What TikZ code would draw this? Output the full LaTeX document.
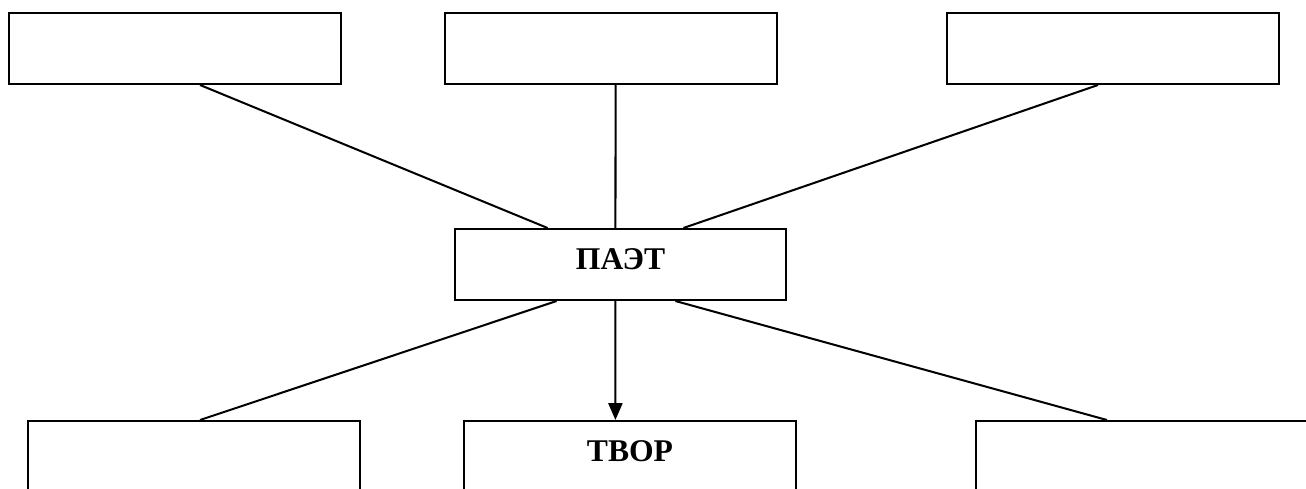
\documentclass[tikz,border=0pt]{standalone}
\usepackage{fontspec}
\setmainfont{Liberation Serif}
\usetikzlibrary{calc,arrows.meta}

\begin{document}
\begin{tikzpicture}[x=0.02cm, y=-0.02cm, line width=1.15pt,
    box/.style = {draw, minimum width=6.64cm, minimum height=1.42cm, inner sep=0pt,
                  font=\fontsize{18}{21}\selectfont\bfseries, text depth=6.2pt}]
            \useasboundingbox (0,0) rectangle (1306,488);

            \node[box] (1) at (175,48.5)    {};
            \node[box] (2) at (611,48.5)    {};
            \node[box] (3) at (1113,48.5)   {};
            \node[box, minimum width=6.62cm] (4) at (620.5,264.5) {ПАЭТ};
            \node[box] (5) at (194,456.5)   {};
            \node[box] (6) at (630,456.5)   {ТВОР};
            \node[box] (7) at (1142,456.5)  {};

            \draw ($(1.south west)!0.575!(1.south east)$) -- ($(4.north west)!0.281!(4.north east)$);
            \draw ($(2.south west)!0.5136!(2.south east)$) -- ($(4.north west)!0.4849!(4.north east)$);
            \draw ($(3.south west)!0.455!(3.south east)$) -- ($(4.north west)!0.689!(4.north east)$);

            \draw ($(4.south west)!0.308!(4.south east)$) -- ($(5.north west)!0.518!(5.north east)$);
            \draw[-{Triangle[length=9.6pt,width=8pt]}] ($(4.south west)!0.4849!(4.south east)$) -- ($(6.north west)!0.4563!(6.north east)$);
            \draw ($(4.south west)!0.665!(4.south east)$) -- ($(7.north west)!0.395!(7.north east)$);
        \end{tikzpicture}
\end{document}
